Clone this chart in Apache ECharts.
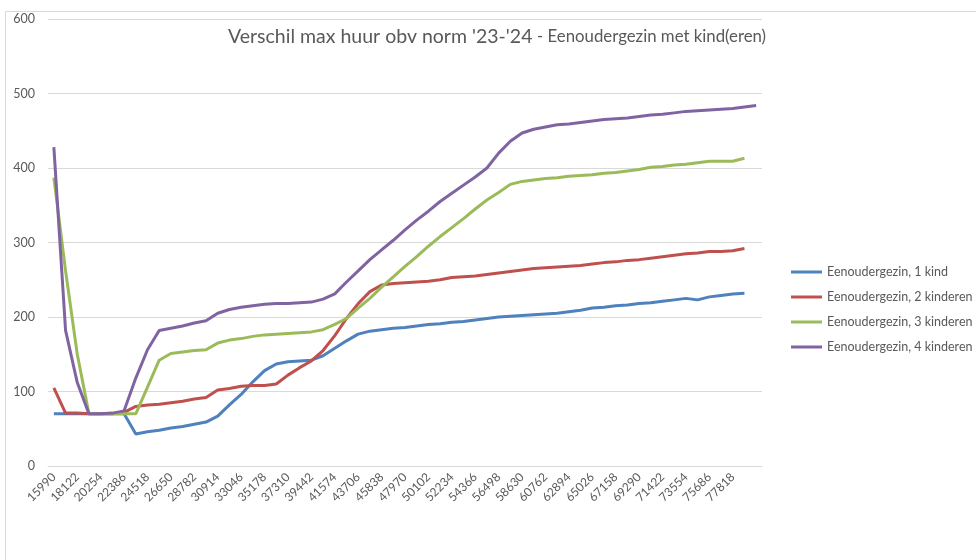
<!DOCTYPE html>
<html>
<head>
<meta charset="utf-8">
<script src="https://cdn.jsdelivr.net/npm/echarts@6/dist/echarts.min.js"></script>
<style>
  html, body { margin: 0; padding: 0; background: #fff; }
  #chart { width: 976px; height: 560px; }
</style>
</head>
<body>
<div id="chart"></div>
<script>
// inkomens (categorie-as)
var incomes = [
  15990, 17056, 18122, 19188, 20254, 21320, 22386, 23452, 24518, 25584,
  26650, 27716, 28782, 29848, 30914, 31980, 33046, 34112, 35178, 36244,
  37310, 38376, 39442, 40508, 41574, 42640, 43706, 44772, 45838, 46904,
  47970, 49036, 50102, 51168, 52234, 53300, 54366, 55432, 56498, 57564,
  58630, 59696, 60762, 61828, 62894, 63960, 65026, 66092, 67158, 68224,
  69290, 70356, 71422, 72488, 73554, 74620, 75686, 76752, 77818, 78884,
  79950
];

var kind1 = [
  70, 70, 70, 70, 70, 70, 70, 43, 46, 48,
  51, 53, 56, 59, 67, 82, 96, 113, 128, 137,
  140, 141, 142, 148, 158, 168, 177, 181, 183, 185,
  186, 188, 190, 191, 193, 194, 196, 198, 200, 201,
  202, 203, 204, 205, 207, 209, 212, 213, 215, 216,
  218, 219, 221, 223, 225, 223, 227, 229, 231, 232
];

var kinderen2 = [
  105, 71, 71, 70, 70, 70, 72, 80, 82, 83,
  85, 87, 90, 92, 102, 104, 107, 108, 108, 110,
  122, 132, 141, 155, 175, 198, 218, 234, 243, 245,
  246, 247, 248, 250, 253, 254, 255, 257, 259, 261,
  263, 265, 266, 267, 268, 269, 271, 273, 274, 276,
  277, 279, 281, 283, 285, 286, 288, 288, 289, 292
];

var kinderen3 = [
  387, 262, 150, 70, 70, 70, 70, 70, 106, 142,
  151, 153, 155, 156, 165, 169, 171, 174, 176, 177,
  178, 179, 180, 183, 190, 198, 212, 225, 240, 254,
  268, 281, 295, 308, 320, 332, 345, 357, 367, 378,
  382, 384, 386, 387, 389, 390, 391, 393, 394, 396,
  398, 401, 402, 404, 405, 407, 409, 409, 409, 413
];

var kinderen4 = [
  428, 182, 112, 70, 70, 71, 74, 118, 156, 182,
  185, 188, 192, 195, 205, 210, 213, 215, 217, 218,
  218, 219, 220, 224, 231, 247, 262, 277, 290, 303,
  317, 330, 342, 355, 366, 377, 388, 400, 420, 436,
  447, 452, 455, 458, 459, 461, 463, 465, 466, 467,
  469, 471, 472, 474, 476, 477, 478, 479, 480, 482,
  484
];

var seriesNames = ['Eenoudergezin, 1 kind', 'Eenoudergezin, 2 kinderen', 'Eenoudergezin, 3 kinderen', 'Eenoudergezin, 4 kinderen'];
var seriesData = [kind1, kinderen2, kinderen3, kinderen4];
var colors = ['#4F81BD', '#C0504D', '#9BBB59', '#8064A2'];

var font = 'Lato, "Open Sans", sans-serif';

var myChart = echarts.init(document.getElementById('chart'));
var option = {
    backgroundColor: '#fff',
    color: colors,
    animation: false,
    textStyle: { fontFamily: font },
    graphic: [{
        type: 'rect',
        shape: { x: 5.5, y: 11.5, width: 1000, height: 600 },
        style: { fill: 'none', stroke: '#d9d9d9', lineWidth: 1 },
        silent: true
    }],
    title: {
        text: "{a|Verschil max huur obv norm '23-'24} {b|- Eenoudergezin met kind(eren)}",
        left: 228,
        top: 27,
        padding: 0,
        textStyle: {
            fontWeight: 'normal',
            rich: {
                a: { fontSize: 19.5, color: '#595959', fontFamily: font, fontWeight: 'normal' },
                b: { fontSize: 16.8, color: '#595959', fontFamily: font, fontWeight: 'normal' }
            }
        }
    },
    legend: {
        orient: 'vertical',
        left: 791,
        top: 265,
        padding: 0,
        itemWidth: 31,
        itemHeight: 3,
        itemGap: 11,
        icon: 'rect',
        data: seriesNames,
        textStyle: { color: '#595959', fontSize: 12.5, fontFamily: font, lineHeight: 14 }
    },
    grid: {
        left: 48,
        right: 214,
        top: 19,
        bottom: 94
    },
    xAxis: {
        type: 'category',
        data: incomes,
        boundaryGap: true,
        axisLine: { lineStyle: { color: '#d9d9d9', width: 1 } },
        axisTick: { show: false },
        axisLabel: {
            rotate: 45,
            margin: 9,
            color: '#595959',
            fontSize: 12,
            fontFamily: font,
            interval: function (index) { return index % 2 === 0 && index < incomes.length - 1; }
        }
    },
    yAxis: {
        type: 'value',
        min: 0,
        max: 600,
        interval: 100,
        axisLine: { show: false },
        axisTick: { show: false },
        axisLabel: { color: '#595959', fontSize: 12.5, margin: 13, fontFamily: font },
        splitLine: { lineStyle: { color: '#d9d9d9', width: 1 } }
    },
    series: seriesData.map(function (d, i) {
        return {
            name: seriesNames[i],
            type: 'line',
            data: d,
            symbol: 'none',
            smooth: false,
            lineStyle: { width: 3, color: colors[i] }
        };
    })
};
myChart.setOption(option);
</script>
</body>
</html>
